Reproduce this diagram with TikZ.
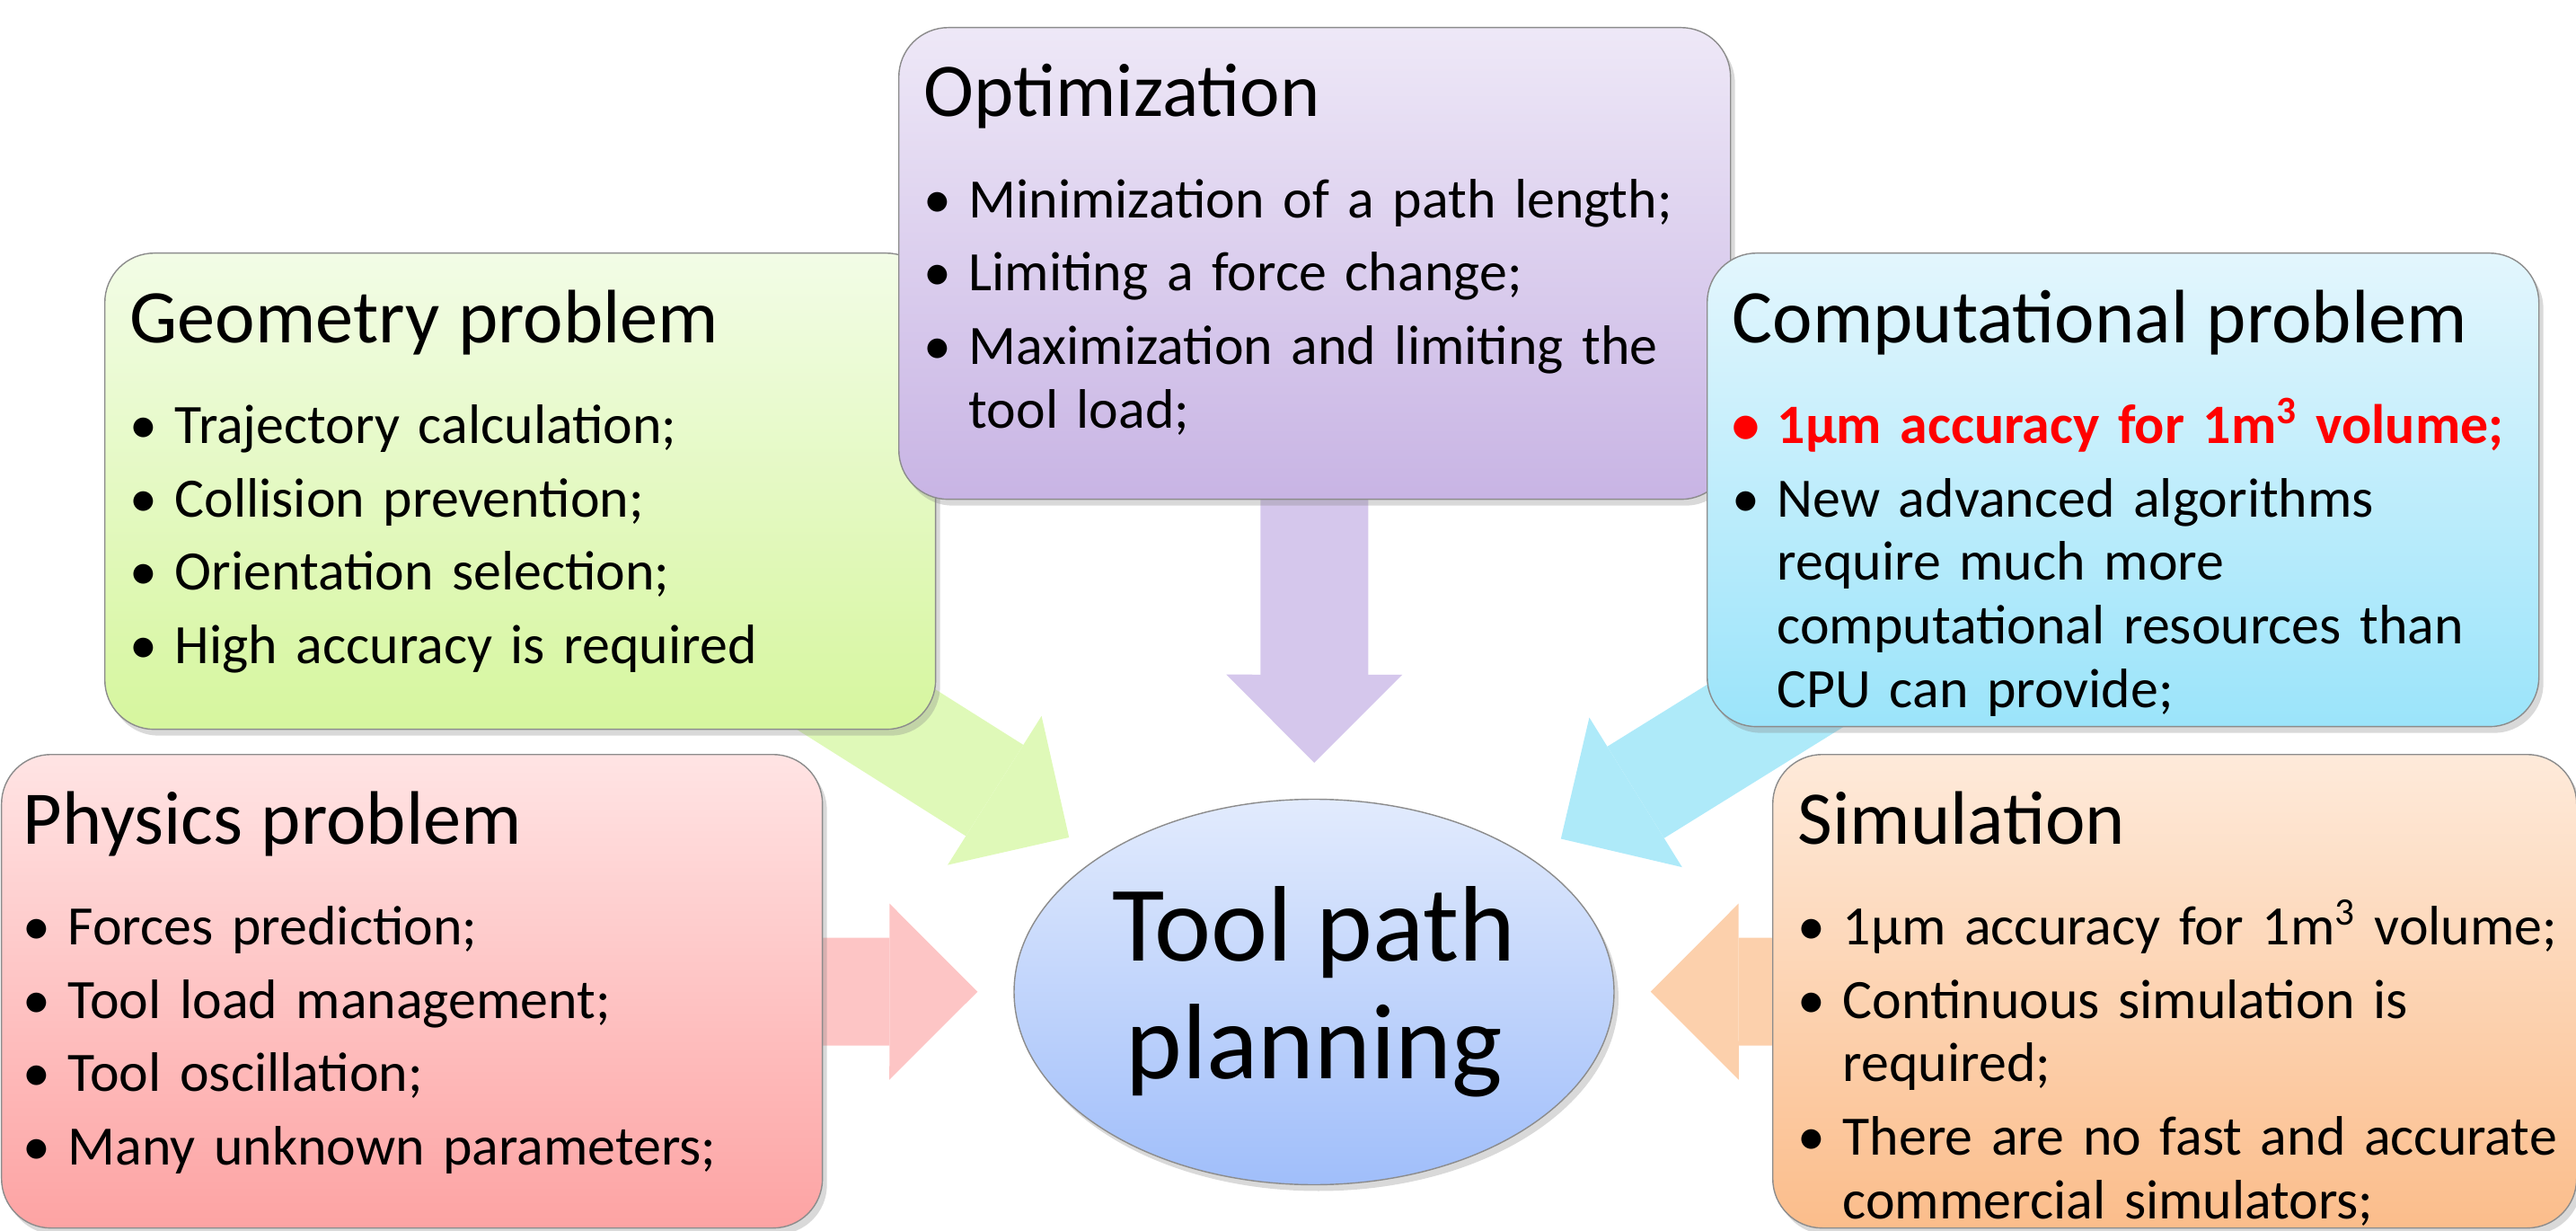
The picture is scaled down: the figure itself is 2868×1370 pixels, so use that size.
\documentclass[tikz,border=0pt]{standalone}
\usepackage{fontspec}
\setmainfont{Carlito}
\usetikzlibrary{shapes.geometric,arrows.meta,shadows,backgrounds}

% one bullet point, wrapped lines hang under the text
\newcommand{\bul}[1]{\par\hangindent=5mm\hangafter=1\noindent\makebox[5mm][l]{\textbullet}#1}
\newcommand{\boxtitle}[1]{{\fontsize{24}{28}\selectfont #1\par}\vspace{8.6pt}}

\begin{document}
\begin{tikzpicture}[x=0.1mm, y=-0.1mm,
    box/.style 2 args={draw=black!45, line width=0.4pt, rounded corners=5.5mm,
      anchor=north west, top color=#1, bottom color=#2,
      drop shadow={shadow xshift=0.5mm, shadow yshift=-0.7mm, opacity=0.3}},
    txt/.style={anchor=base west, inner sep=0pt, text width=95mm, align=left,
      font=\fontsize{17.6}{20.2}\selectfont, execute at begin node={\setlength{\parskip}{3.1pt}}},
    hub/.style={ellipse, draw=black!45, line width=0.4pt, top color=hubtop, bottom color=hubbot,
      minimum width=66.8mm, minimum height=42.9mm, inner sep=1mm, align=center,
      font=\fontsize{34}{37.3}\selectfont,
      drop shadow={shadow xshift=0.5mm, shadow yshift=-0.7mm, opacity=0.3}},
    flow/.style={draw=#1, line width=12mm, shorten >=4mm,
      -{Triangle[width=19.6mm, length=9.8mm, line width=0pt]}}]
    \definecolor{geotop}{HTML}{F2FCE6}
    \definecolor{geobot}{HTML}{D6F69E}
    \definecolor{opttop}{HTML}{EEE8F7}
    \definecolor{optbot}{HTML}{C8B4E4}
    \definecolor{comptop}{HTML}{E3F6FD}
    \definecolor{compbot}{HTML}{9BE4FA}
    \definecolor{phystop}{HTML}{FFE4E4}
    \definecolor{physbot}{HTML}{FDA3A3}
    \definecolor{simtop}{HTML}{FEEADA}
    \definecolor{simbot}{HTML}{FBBD8B}
    \definecolor{hubtop}{HTML}{E2EBFD}
    \definecolor{hubbot}{HTML}{A0BEFA}
    \definecolor{geoarrow}{HTML}{DFF9B8}
    \definecolor{optarrow}{HTML}{D5C7EC}
    \definecolor{comparrow}{HTML}{AEEAF9}
    \definecolor{physarrow}{HTML}{FDC5C5}
    \definecolor{simarrow}{HTML}{FCD0AC}

    \useasboundingbox (0,0) rectangle (2868,1370);

    % Boxes
    \node[box={geotop}{geobot}, minimum width=92.5mm, minimum height=53mm] (geo) at (116,281) {};
    \node[txt] (geo-txt) at ([shift={(28,100)}]geo.north west) {\boxtitle{Geometry problem}
      \bul{Trajectory calculation;}
      \bul{Collision prevention;}
      \bul{Orientation selection;}
      \bul{High accuracy is required}\par};

    \node[box={opttop}{optbot}, minimum width=92.6mm, minimum height=52.5mm] (opt) at (1000,30) {};
    \node[txt] (opt-txt) at ([shift={(28,100)}]opt.north west) {\boxtitle{Optimization}
      \bul{Minimization of a path length;}
      \bul{Limiting a force change;}
      \bul{Maximization and limiting the\newline tool load;}\par};

    \node[box={comptop}{compbot}, minimum width=92.6mm, minimum height=52.7mm] (comp) at (1900,281) {};
    \node[txt] (comp-txt) at ([shift={(28,100)}]comp.north west) {\boxtitle{Computational problem}
      {\color{red}\bfseries\bul{1µm accuracy for 1m\textsuperscript{3} volume;}}
      \bul{New advanced algorithms\newline require much more\newline computational resources than\newline CPU can provide;}\par};

    \node[box={phystop}{physbot}, minimum width=91.4mm, minimum height=52.7mm] (phys) at (1,839) {};
    \node[txt] (phys-txt) at ([shift={(24,100)}]phys.north west) {\boxtitle{Physics problem}
      \bul{Forces prediction;}
      \bul{Tool load management;}
      \bul{Tool oscillation;}
      \bul{Many unknown parameters;}\par};

    \node[box={simtop}{simbot}, minimum width=89.5mm, minimum height=52.7mm] (sim) at (1973,839) {};
    \node[txt] (sim-txt) at ([shift={(28,100)}]sim.north west) {\boxtitle{Simulation}
      \bul{1µm accuracy for 1m\textsuperscript{3} volume;}
      \bul{Continuous simulation is\newline required;}
      \bul{There are no fast and accurate\newline commercial simulators;}\par};

    % Centre
    \node[hub] (hub) at (1463,1104) {Tool path\\planning};

    % Block arrows behind the boxes
    \begin{scope}[on background layer]
        \draw[flow=geoarrow] (geo.center) -- (hub);
        \draw[flow=optarrow] (opt.center) -- (hub);
        \draw[flow=comparrow] (comp.center) -- (hub);
        \draw[flow=physarrow] (phys.center) -- (hub);
        \draw[flow=simarrow] (sim.center) -- (hub);
    \end{scope}
\end{tikzpicture}
\end{document}
